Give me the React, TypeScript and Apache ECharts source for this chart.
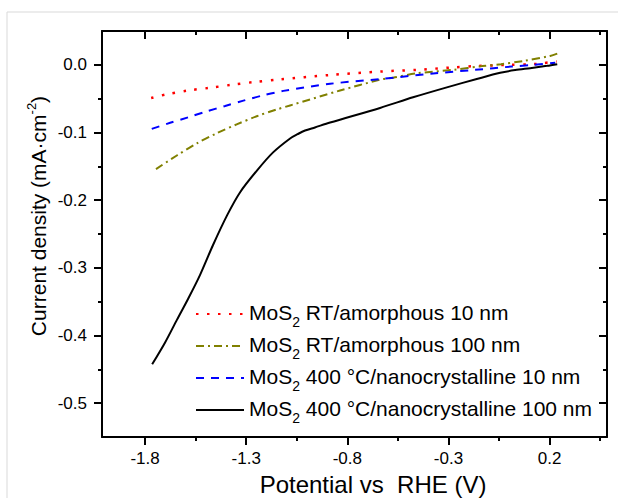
import React, { useEffect, useRef } from "react";
import * as echarts from "echarts";

const FONT = "'Liberation Sans', Arial, sans-serif";

const X_MIN = -2.013;
const X_MAX = 0.484;
const Y_MIN = -0.55;
const Y_MAX = 0.05;

const xMajor = [-1.8, -1.3, -0.8, -0.3, 0.2];
const xMinor = [-1.55, -1.05, -0.55, -0.05, 0.45];
const yMajor = [-0.5, -0.4, -0.3, -0.2, -0.1, 0.0];
const yMinor = [-0.45, -0.35, -0.25, -0.15, -0.05];

const seriesNames = [
  "MoS2 RT/amorphous 10 nm",
  "MoS2 RT/amorphous 100 nm",
  "MoS2 400 °C/nanocrystalline 10 nm",
  "MoS2 400 °C/nanocrystalline 100 nm",
];
const seriesColors = ["#ff0000", "#808000", "#0000ff", "#000000"];

const xRed = [-1.77, -1.70, -1.59, -1.48, -1.37, -1.26, -1.14, -0.885, -0.638, -0.456, -0.287, -0.168, -0.005, 0.119, 0.168, 0.235];
const yRed = [-0.049, -0.044, -0.038, -0.034, -0.0294, -0.0254, -0.0216, -0.015, -0.0099, -0.0074, -0.004, -0.0019, 0.0, 0.001, 0.0025, 0.005];

const xOlive = [-1.746, -1.643, -1.544, -1.445, -1.347, -1.248, -1.149, -1.083, -0.836, -0.638, -0.573, -0.455, -0.277, -0.133, -0.04, 0.074, 0.203, 0.238];
const yOlive = [-0.154, -0.134, -0.116, -0.101, -0.088, -0.076, -0.066, -0.06, -0.038, -0.022, -0.019, -0.0125, -0.0074, -0.0019, 0.001, 0.0059, 0.0132, 0.0166];

const xBlue = [-1.767, -1.676, -1.586, -1.495, -1.404, -1.314, -1.223, -1.116, -0.885, -0.638, -0.376, -0.168, 0.0135, 0.119, 0.228];
const yBlue = [-0.0946, -0.0857, -0.0775, -0.0687, -0.0608, -0.0529, -0.0456, -0.0385, -0.028, -0.021, -0.0128, -0.0074, -0.0025, 0.0, 0.003];

const xBlack = [-1.765, -1.701, -1.642, -1.587, -1.528, -1.464, -1.394, -1.33, -1.246, -1.167, -1.083, -1.046, -1.009, -0.96, -0.885, -0.638, -0.475, -0.308, -0.16, -0.044, 0.03, 0.104, 0.187, 0.238];
const yBlack = [-0.4426, -0.4103, -0.3765, -0.3456, -0.3103, -0.2662, -0.2221, -0.1882, -0.1559, -0.1294, -0.1088, -0.1025, -0.0971, -0.0925, -0.0853, -0.0637, -0.048, -0.0333, -0.021, -0.0118, -0.0078, -0.0049, -0.0015, 0.001];

const xValues = [xRed, xOlive, xBlue, xBlack];
const yValues = [yRed, yOlive, yBlue, yBlack];
const dashTypes: any[] = [[2.5, 8.5], [8, 4, 2, 4], [8, 7], "solid"];
const lineWidths = [2.5, 2, 2, 2];

const GRID = { left: 102, top: 31, right: 11, bottom: 61 };

function xAx(gridIndex: number, position: string, ticks: number[], len: number, inside: boolean, labels: boolean, line: boolean) {
  return {
    type: "value",
    gridIndex,
    position,
    min: X_MIN,
    max: X_MAX,
    axisLine: { show: line, onZero: false, lineStyle: { color: "#000", width: 2 } },
    axisTick: { show: true, inside, length: len, customValues: ticks, lineStyle: { color: "#000", width: 2 } },
    axisLabel: {
      show: labels,
      customValues: labels ? ticks : undefined,
      formatter: (v: number) => v.toFixed(1),
      fontSize: 17,
      fontFamily: FONT,
      color: "#000",
      margin: 13,
    },
    splitLine: { show: false },
  };
}

function yAx(gridIndex: number, position: string, ticks: number[], len: number, inside: boolean, labels: boolean, line: boolean) {
  return {
    type: "value",
    gridIndex,
    position,
    min: Y_MIN,
    max: Y_MAX,
    axisLine: { show: line, onZero: false, lineStyle: { color: "#000", width: 2 } },
    axisTick: { show: true, inside, length: len, customValues: ticks, lineStyle: { color: "#000", width: 2 } },
    axisLabel: {
      show: labels,
      customValues: labels ? ticks : undefined,
      formatter: (v: number) => v.toFixed(1),
      fontSize: 17,
      fontFamily: FONT,
      color: "#000",
      margin: 15,
    },
    splitLine: { show: false },
  };
}

export default function App() {
  const ref = useRef<HTMLDivElement>(null);
  useEffect(() => {
    if (!ref.current) return;
    const chart = echarts.init(ref.current, null, { renderer: "svg" });
    const series = seriesNames.map((name, i) => ({
      name,
      type: "line",
      xAxisIndex: 0,
      yAxisIndex: 0,
      data: xValues[i].map((x, j) => [x, yValues[i][j]]),
      smooth: 0.3,
      symbol: "none",
      showSymbol: false,
      lineStyle: { color: seriesColors[i], width: lineWidths[i], type: dashTypes[i] },
      itemStyle: { color: seriesColors[i] },
      z: 3,
    }));
    chart.setOption({
      animation: false,
      backgroundColor: "#fff",
      grid: [GRID, GRID, GRID, GRID],
      xAxis: [
        xAx(0, "bottom", xMajor, 8, false, true, true),
        xAx(1, "bottom", xMinor, 4, false, false, false),
        xAx(2, "top", xMajor, 8, true, false, true),
        xAx(3, "top", xMinor, 4, true, false, false),
      ],
      yAxis: [
        yAx(0, "left", yMajor, 8, false, true, true),
        yAx(1, "left", yMinor, 4, false, false, false),
        yAx(2, "right", yMajor, 8, true, false, true),
        yAx(3, "right", yMinor, 4, true, false, false),
      ],
      legend: {
        orient: "vertical",
        left: 195,
        top: 302,
        itemWidth: 48,
        itemHeight: 14,
        itemGap: 5,
        padding: 0,
        data: seriesNames,
        itemStyle: { opacity: 0 },
        formatter: (name: string) => "{a|MoS}{b|2}{a|" + name.slice(4) + "}",
        textStyle: {
          fontFamily: FONT,
          fontSize: 21,
          color: "#000",
          rich: {
            a: { fontFamily: FONT, fontSize: 21, color: "#000", lineHeight: 24, verticalAlign: "top" },
            b: { fontFamily: FONT, fontSize: 14, color: "#000", lineHeight: 14, padding: [13, 0, 0, 0], verticalAlign: "top" },
          },
        },
      },
      graphic: [
        {
          type: "rect",
          shape: { x: 7, y: 12, width: 800, height: 700 },
          style: { fill: "none", stroke: "#d9d9d9", lineWidth: 1 },
          z: -1,
          silent: true,
        },
        {
          type: "text",
          x: 373,
          y: 484,
          style: {
            text: "Potential vs  RHE (V)",
            fontFamily: FONT,
            fontSize: 24,
            fill: "#000",
            align: "center",
            verticalAlign: "middle",
          },
        },
        {
          type: "text",
          x: 37,
          y: 216,
          rotation: Math.PI / 2,
          style: {
            text: "{t|Current density (mA·cm}{p|-2}{t|)}",
            fontFamily: FONT,
            fontSize: 21,
            fill: "#000",
            align: "center",
            verticalAlign: "middle",
            rich: {
              t: { fontFamily: FONT, fontSize: 21, fill: "#000", lineHeight: 24, verticalAlign: "bottom" },
              p: { fontFamily: FONT, fontSize: 13, fill: "#000", lineHeight: 13, padding: [0, 0, 10, 0], verticalAlign: "top" },
            },
          },
        },
      ],
      series,
    });
    return () => chart.dispose();
  }, []);
  return (
    <div
      ref={ref}
      style={{ position: "fixed", left: 0, top: 0, width: 618, height: 498, background: "#fff" }}
    />
  );
}
